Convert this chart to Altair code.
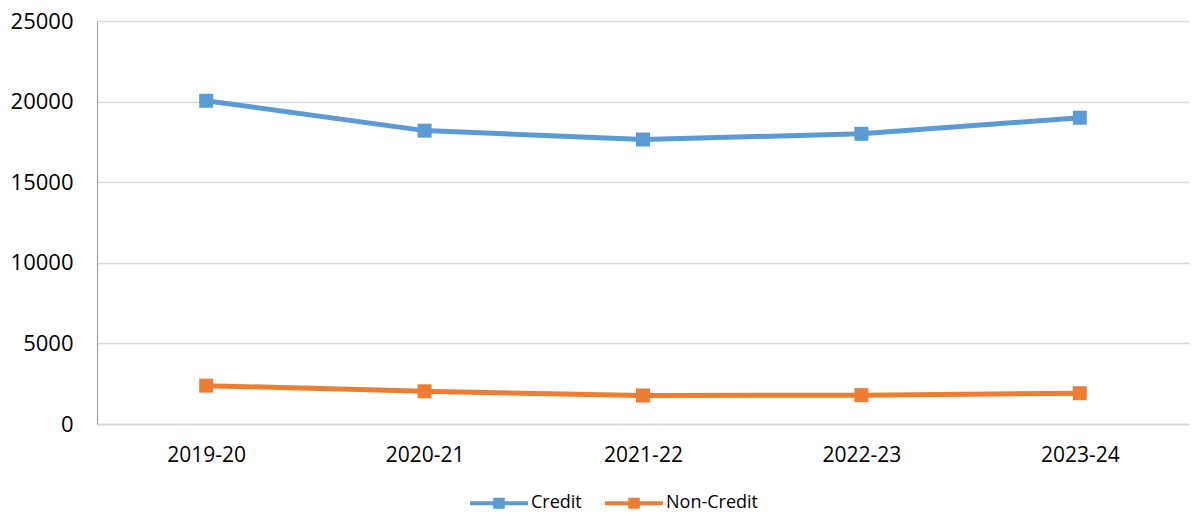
import altair as alt
import pandas as pd

years = ["2019-20", "2020-21", "2021-22", "2022-23", "2023-24"]
credit = [20050, 18200, 17650, 18000, 19000]
noncredit = [2380, 2030, 1770, 1790, 1910]
series_names = ["Credit", "Non-Credit"]
colors = ["#5B9BD5", "#ED7D31"]
y_ticks = [0, 5000, 10000, 15000, 20000, 25000]

rows = []
for y, c in zip(years, credit):
    rows.append({"year": y, "series": "Credit", "value": c})
for y, n in zip(years, noncredit):
    rows.append({"year": y, "series": "Non-Credit", "value": n})
df = pd.DataFrame(rows)

FONT = "Open Sans"
legend_path = "M-1,0 H1 M-0.2,-0.12 H0.2 M-0.2,0 H0.2 M-0.2,0.12 H0.2"

color_enc = alt.Color(
    "series:N",
    scale=alt.Scale(domain=series_names, range=colors),
    legend=alt.Legend(
        title=None,
        orient="none",
        direction="horizontal",
        legendX=371,
        legendY=451,
        symbolType=legend_path,
        symbolSize=3364,
        symbolStrokeWidth=4,
        labelFont=FONT,
        labelFontSize=18,
        labelColor="#000000",
        labelOffset=1,
        columnPadding=15,
    ),
)

base = alt.Chart(df).encode(
    x=alt.X(
        "year:N",
        sort=years,
        scale=alt.Scale(type="point", padding=0.5),
        axis=alt.Axis(
            title=None,
            labelAngle=0,
            labelFont=FONT,
            labelFontSize=21,
            labelColor="#000000",
            labelPadding=20,
            ticks=False,
            domainColor="#d9d9d9",
            domainWidth=1.5,
            grid=False,
        ),
    ),
    y=alt.Y(
        "value:Q",
        scale=alt.Scale(domain=[0, 25000], nice=False),
        axis=alt.Axis(
            title=None,
            values=y_ticks,
            format="d",
            labelFont=FONT,
            labelFontSize=22,
            labelColor="#000000",
            labelPadding=24,
            ticks=False,
            domainColor="#a6a6a6",
            domainWidth=1.2,
            gridColor="#d9d9d9",
            gridWidth=1.5,
        ),
    ),
    color=color_enc,
)

lines = base.mark_line(strokeWidth=5)
points = base.mark_point(shape="square", filled=True, size=196, opacity=1)

chart = (
    alt.layer(lines, points)
    .properties(
        width=1092,
        height=403,
        autosize=alt.AutoSizeParams(type="none"),
        padding={"left": 89, "top": 13, "right": 2, "bottom": 90},
    )
    .configure_view(stroke=None)
)

chart.save("out.html", embed_options={"renderer": "svg", "actions": False})
